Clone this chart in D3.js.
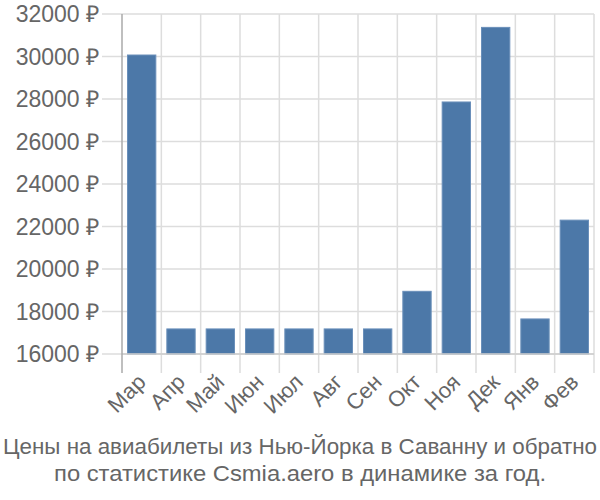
<!DOCTYPE html>
<html>
<head>
<meta charset="utf-8">
<script src="https://cdn.jsdelivr.net/npm/d3@7"></script>
<style>
  body { margin: 0; background: #fff; }
  text { font-family: "Liberation Sans", Arial, sans-serif; fill: #666; }
</style>
</head>
<body>
<div id="chart"></div>
<script>
// data
var months = ["Мар", "Апр", "Май", "Июн", "Июл", "Авг", "Сен", "Окт", "Ноя", "Дек", "Янв", "Фев"];
var prices = [30070, 17180, 17180, 17180, 17180, 17180, 17180, 18950, 27860, 31370, 17650, 22300];
var yTicks = [16000, 18000, 20000, 22000, 24000, 26000, 28000, 30000, 32000];
var titleLines = ["Цены на авиабилеты из Нью-Йорка в Саванну и обратно", "по статистике Csmia.aero в динамике за год."];

var width = 600, height = 500;
var plotLeft = 122, plotRight = 594, plotTop = 14, plotBottom = 354;

var svg = d3.select("#chart").append("svg")
  .attr("width", width)
  .attr("height", height);

var x = d3.scaleBand().domain(months).range([plotLeft, plotRight]).paddingInner(0.28).paddingOuter(0.14);
var xGrid = d3.scaleBand().domain(months).range([plotLeft, plotRight]);
var y = d3.scaleLinear().domain([16000, 32000]).range([plotBottom, plotTop]);

// horizontal grid + tick marks
svg.selectAll(".hgrid").data(yTicks).enter().append("line")
  .attr("x1", plotLeft - 20).attr("x2", plotRight)
  .attr("y1", function(d) { return y(d); }).attr("y2", function(d) { return y(d); })
  .attr("stroke", "#ddd").attr("stroke-width", 1.5);

// vertical grid at band edges
var edges = months.map(function(m) { return xGrid(m); }).concat([plotRight]);
svg.selectAll(".vgrid").data(edges.slice(1)).enter().append("line")
  .attr("x1", function(d) { return d; }).attr("x2", function(d) { return d; })
  .attr("y1", plotTop).attr("y2", plotBottom + 19)
  .attr("stroke", "#ddd").attr("stroke-width", 1.5);

// y labels
svg.selectAll(".ylab").data(yTicks).enter().append("text")
  .attr("x", plotLeft - 23)
  .attr("y", function(d) { return y(d); })
  .attr("dy", "0.35em")
  .attr("text-anchor", "end")
  .attr("font-size", "23px")
  .text(function(d) { return d + " ₽"; });

// bars
svg.selectAll(".bar").data(prices).enter().append("rect")
  .attr("x", function(d, i) { return x(months[i]); })
  .attr("width", x.bandwidth())
  .attr("y", function(d) { return y(d); })
  .attr("height", function(d) { return plotBottom - y(d); })
  .attr("fill", "#4c78a8")
  .attr("stroke", "#6a8fba").attr("stroke-width", 1);

// baseline and y axis line
svg.append("line")
  .attr("x1", plotLeft).attr("x2", plotRight).attr("y1", plotBottom).attr("y2", plotBottom)
  .attr("stroke", "#ccc").attr("stroke-width", 1.5);
svg.append("line")
  .attr("x1", plotLeft).attr("x2", plotLeft).attr("y1", plotTop).attr("y2", plotBottom + 19)
  .attr("stroke", "#aaa").attr("stroke-width", 1.5);

// x labels
svg.selectAll(".xlab").data(months).enter().append("text")
  .attr("transform", function(d) {
    return "translate(" + (x(d) + x.bandwidth() / 2) + "," + (plotBottom + 24) + ") rotate(-45)";
  })
  .attr("text-anchor", "end")
  .attr("dy", "0.35em")
  .attr("font-size", "22px")
  .text(function(d) { return d; });

// title
svg.selectAll(".title").data(titleLines).enter().append("text")
  .attr("x", width / 2)
  .attr("y", function(d, i) { return 454 + i * 27; })
  .attr("text-anchor", "middle")
  .attr("font-size", "22px")
  .attr("textLength", function(d, i) { return i === 0 ? 594 : 492; })
  .attr("lengthAdjust", "spacingAndGlyphs")
  .text(function(d) { return d; });
</script>
</body>
</html>
